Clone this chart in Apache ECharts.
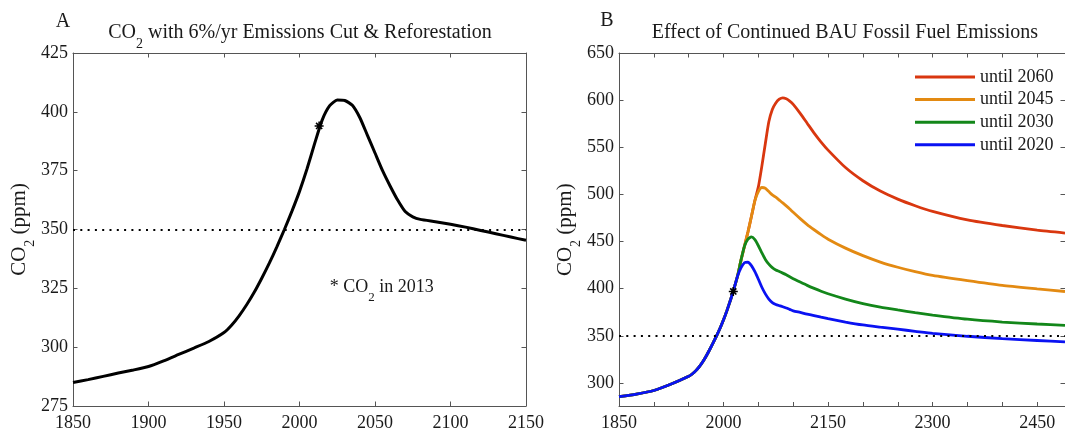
<!DOCTYPE html>
<html><head><meta charset="utf-8">
<script src="https://cdn.jsdelivr.net/npm/echarts@6/dist/echarts.min.js"></script>
<style>html,body{margin:0;padding:0;background:#fff}#c{width:1065px;height:433px}</style>
</head><body><div id="c"></div>
<script>
// ---------- Panel A data ----------
const yearsA = [1850,1860,1870,1880,1890,1900,1910,1920,1930,1940,1950,1955,1960,1965,1970,1975,1980,1985,1990,1995,2000,2005,2010,2015,2020,2025,2030,2035,2040,2045,2050,2055,2060,2065,2070,2075,2080,2090,2100,2110,2120,2130,2140,2150];
const co2A = [285,286.2,287.6,289,290.3,291.8,294.2,296.9,299.6,302.4,306.2,309.3,313.3,318,323.3,329.3,335.7,342.6,350,357.8,366.2,375.8,386.5,396.5,402.6,405,404.8,402.8,397.5,390,382.5,375,368.5,362.5,357.6,355.4,354.3,353.3,352.2,351,349.6,348.2,346.8,345.4];
const xTicksA = [1850,1900,1950,2000,2050,2100,2150];
const yTicksA = [275,300,325,350,375,400,425];

// ---------- Panel B data ----------
const histYearsB = [1850,1875,1900,1925,1950,1955,1960,1965,1970,1975,1980,1985,1990,1995,2000,2005,2010,2015,2020];
const histCO2B = [285.5,288.2,292,298.8,307,309.5,312.8,317,322.2,328.3,335.2,342.5,350,358,367,377,388,400,413];
const futureYearsB = [2025,2030,2035,2040,2045,2050,2055,2060,2065,2070,2075,2080,2085,2090,2095,2100,2110,2120,2130,2140,2150,2175,2200,2225,2250,2275,2300,2350,2400,2450,2490];
const co2_2020 = [422,427.5,428,424.5,418,410,401.5,394.5,389,385.3,383.3,382,380.8,379.5,378,376.5,374.8,373,371.5,369.8,368.2,364.6,361.5,359.2,357,354.8,352.6,349.5,347,345,343.5];
const co2_2030 = [430,445,452.5,455,452,445.5,438,431,426,422.3,419.8,418.2,416.5,414.7,412.6,410.6,407,403.5,400.3,397.3,394.6,389,384.2,380.4,377.4,374.6,372,367.6,364.6,362.5,361];
const co2_2045 = [430,445,460,476.5,493.5,503,507.3,506.5,503,499.5,497,494,491,487.8,484.5,481,474.3,468,462.5,457.3,452.5,443,435,428.2,422.7,418,414,408.5,403.5,399.8,397];
const co2_2060 = [430,445,460,476.5,493.5,508,530,554,577,590,597,601,602.5,601.5,599,595.5,586,575.5,565,555.5,547,528.5,514.5,503.5,495,488,482,473,467,462,459];
const xTicksB = [1850,1900,1950,2000,2050,2100,2150,2200,2250,2300,2350,2400,2450];
const xLabelsB = [1850,2000,2150,2300,2450];
const yTicksB = [300,350,400,450,500,550,600,650];

const scenarioNames = ['until 2060','until 2045','until 2030','until 2020'];
const scenarioColors = ['#d9370f','#e38a12','#13871a','#0a12f2'];
const target = 350;
const obs2013A = [2013, 394];
const obs2013B = [2014, 397];
const noteA = [2020, 325.5];

const pairs = (xs, ys) => xs.map((x, i) => [x, ys[i]]);
const FONT = 'Liberation Serif';
const TXT = '#1a1a1a';
const AX = '#555';
const STAR = 'path://M5,0L5,10M0,5L10,5M1.6,1.6L8.4,8.4M8.4,1.6L1.6,8.4';
const plain = v => String(v);

function xAx(g, min, max, pos, labels, tickVals, labelVals) {
  return {type:'value', gridIndex:g, min:min, max:max, position:pos,
    axisLine:{show:true, onZero:false, lineStyle:{color:AX, width:1}},
    axisTick:{show:true, inside:true, length:4.5, lineStyle:{color:AX}, customValues:tickVals},
    axisLabel:{show:labels, margin:8, fontSize:18, fontFamily:FONT, color:TXT, formatter:plain,
      customValues:labelVals || tickVals},
    splitLine:{show:false}};
}
function yAx(g, min, max, pos, labels, tickVals, nameGap) {
  const a = {type:'value', gridIndex:g, min:min, max:max, position:pos,
    axisLine:{show:true, onZero:false, lineStyle:{color:AX, width:1}},
    axisTick:{show:true, inside:true, length:4.5, lineStyle:{color:AX}, customValues:tickVals},
    axisLabel:{show:labels, margin:5, fontSize:18, fontFamily:FONT, color:TXT, formatter:plain,
      customValues:tickVals},
    splitLine:{show:false}};
  if (labels) {
    a.name = 'CO{s|2} (ppm)';
    a.nameLocation = 'middle';
    a.nameRotate = 90;
    a.nameGap = nameGap;
    a.nameTextStyle = {fontSize:21, fontFamily:FONT, color:TXT,
      rich:{s:{fontSize:14, fontFamily:FONT, color:TXT, padding:[22,0,0,0]}}};
  }
  return a;
}

const dotted = {silent:true, symbol:['none','none'], label:{show:false},
  lineStyle:{type:[2,5.3], width:2, color:'#000'}, emphasis:{disabled:true},
  data:[{yAxis:target}]};

const lineB = (name, color, yv) => ({
  name:name, type:'line', xAxisIndex:2, yAxisIndex:2, symbol:'none', smooth:0.2,
  lineStyle:{color:color, width:2.8}, itemStyle:{color:color},
  data:pairs(histYearsB.concat(futureYearsB), histCO2B.concat(yv))
});

const option = {
  animation:false,
  backgroundColor:'#fff',
  textStyle:{fontFamily:FONT},
  grid:[
    {left:73, top:53, width:453, height:353},
    {left:619, top:53, width:447, height:353.5}
  ],
  xAxis:[
    xAx(0, 1850, 2150, 'bottom', true, xTicksA),
    xAx(0, 1850, 2150, 'top', false, xTicksA),
    xAx(1, 1850, 2490, 'bottom', true, xTicksB, xLabelsB),
    xAx(1, 1850, 2490, 'top', false, xTicksB)
  ],
  yAxis:[
    yAx(0, 275, 425, 'left', true, yTicksA, 30),
    yAx(0, 275, 425, 'right', false, yTicksA),
    yAx(1, 275, 650, 'left', true, yTicksB, 31),
    yAx(1, 275, 650, 'right', false, yTicksB)
  ],
  legend:{
    data:scenarioNames, orient:'vertical', left:915, top:68, padding:0,
    itemWidth:60, itemHeight:3, itemGap:4.6, icon:'rect',
    textStyle:{fontSize:18, fontFamily:FONT, color:TXT}
  },
  graphic:[
    {type:'text', style:{text:'A', x:63, y:22, fontSize:20, fontFamily:FONT, fill:TXT, align:'center', verticalAlign:'middle'}},
    {type:'text', style:{text:'B', x:607, y:21, fontSize:20, fontFamily:FONT, fill:TXT, align:'center', verticalAlign:'middle'}},
    {type:'text', style:{text:'CO{s|2} with 6%/yr Emissions Cut & Reforestation', x:300, y:32.5,
      fontSize:20, fontFamily:FONT, fill:TXT, align:'center', verticalAlign:'middle',
      rich:{s:{fontSize:14, fontFamily:FONT, fill:TXT, padding:[23,0,0,0]}}}},
    {type:'text', style:{text:'Effect of Continued BAU Fossil Fuel Emissions', x:845, y:32.5,
      fontSize:20, fontFamily:FONT, fill:TXT, align:'center', verticalAlign:'middle'}}
  ],
  series:[
    {type:'line', xAxisIndex:0, yAxisIndex:0, symbol:'none', smooth:0.2,
     lineStyle:{color:'#000', width:3}, data:pairs(yearsA, co2A), markLine:dotted},
    {type:'scatter', xAxisIndex:0, yAxisIndex:0, symbol:STAR, symbolSize:9,
     itemStyle:{color:'#000', borderColor:'#000', borderWidth:1.6, opacity:1}, data:[obs2013A], z:5},
    {type:'scatter', xAxisIndex:0, yAxisIndex:0, symbolSize:0, data:[noteA], silent:true,
     itemStyle:{opacity:1},
     label:{show:true, position:[0,0], align:'left', verticalAlign:'middle',
       formatter:'* CO{s|2} in 2013', fontSize:18, fontFamily:FONT, color:TXT, opacity:1,
       rich:{s:{fontSize:13, fontFamily:FONT, color:TXT, padding:[21,0,0,0]}}}},
    lineB(scenarioNames[0], scenarioColors[0], co2_2060),
    lineB(scenarioNames[1], scenarioColors[1], co2_2045),
    lineB(scenarioNames[2], scenarioColors[2], co2_2030),
    Object.assign(lineB(scenarioNames[3], scenarioColors[3], co2_2020), {markLine:dotted}),
    {type:'scatter', xAxisIndex:2, yAxisIndex:2, symbol:STAR, symbolSize:9,
     itemStyle:{color:'#000', borderColor:'#000', borderWidth:1.6, opacity:1}, data:[obs2013B], z:5}
  ]
};
const chart = echarts.init(document.getElementById('c'));
chart.setOption(option);
</script></body></html>
